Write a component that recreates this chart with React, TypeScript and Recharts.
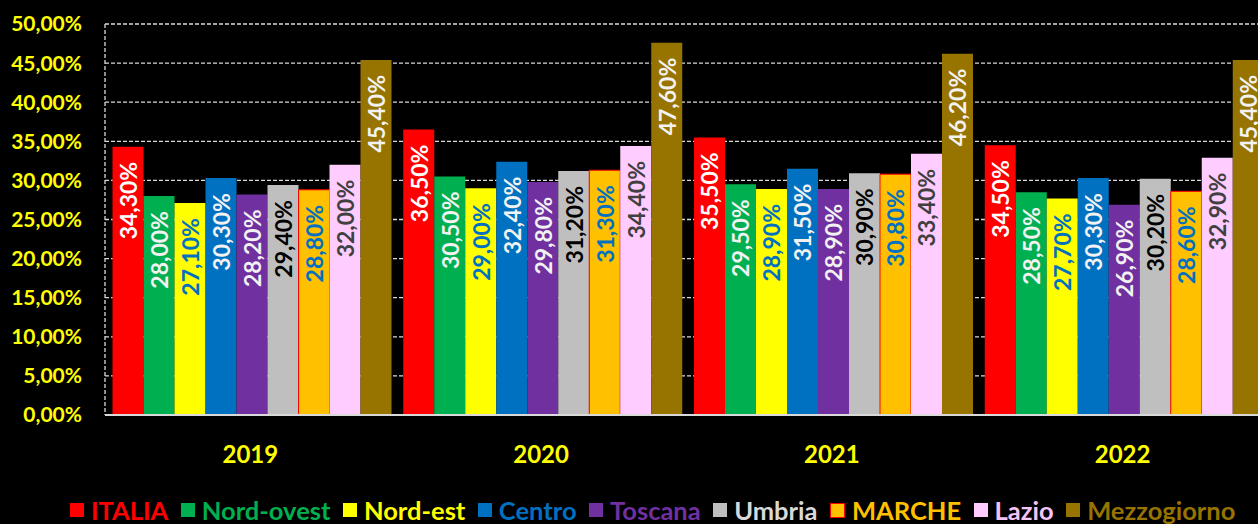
import React from 'react';
import { BarChart, Bar, XAxis, YAxis, CartesianGrid, Legend, LabelList } from 'recharts';

const years = ['2019', '2020', '2021', '2022'];
const italia = [34.3, 36.5, 35.5, 34.5];
const nordOvest = [28.0, 30.5, 29.5, 28.5];
const nordEst = [27.1, 29.0, 28.9, 27.7];
const centro = [30.3, 32.4, 31.5, 30.3];
const toscana = [28.2, 29.8, 28.9, 26.9];
const umbria = [29.4, 31.2, 30.9, 30.2];
const marche = [28.8, 31.3, 30.8, 28.6];
const lazio = [32.0, 34.4, 33.4, 32.9];
const mezzogiorno = [45.4, 47.6, 46.2, 45.4];
const yTicks = [0, 5, 10, 15, 20, 25, 30, 35, 40, 45, 50];

const FONT = "Lato, 'DejaVu Sans', sans-serif";

const series = [
  { key: 'ITALIA', values: italia, fill: '#FF0000', label: '#FFFFFF', legend: '#FF0000' },
  { key: 'Nord-ovest', values: nordOvest, fill: '#00B050', label: '#F2F2F2', legend: '#00B050' },
  { key: 'Nord-est', values: nordEst, fill: '#FFFF00', label: '#0070C0', legend: '#FFFF00' },
  { key: 'Centro', values: centro, fill: '#0070C0', label: '#F2F2F2', legend: '#0070C0' },
  { key: 'Toscana', values: toscana, fill: '#7030A0', label: '#F2F2F2', legend: '#7030A0' },
  { key: 'Umbria', values: umbria, fill: '#BFBFBF', label: '#000000', legend: '#D9D9D9' },
  { key: 'MARCHE', values: marche, fill: '#FFC000', label: '#0070C0', legend: '#FFC000', stroke: '#FF0000' },
  { key: 'Lazio', values: lazio, fill: '#FFCCFF', label: '#404040', legend: '#F4C4F4' },
  { key: 'Mezzogiorno', values: mezzogiorno, fill: '#977300', label: '#F2F2F2', legend: '#977300' },
];

const data = years.map((y, i) => {
  const row: any = { year: y };
  series.forEach((s) => {
    row[s.key] = s.values[i];
  });
  return row;
});

const fmt = (v: any) => Number(v).toFixed(2).replace('.', ',') + '%';

const makeLabel = (color: string) => (props: any) => {
  const { x, y, width, value } = props;
  const cx = Number(x) + Number(width) / 2;
  const ty = Number(y) + 15;
  return (
    <text
      x={cx}
      y={ty}
      transform={`rotate(-90 ${cx} ${ty})`}
      textAnchor="end"
      dominantBaseline="central"
      fill={color}
      fontSize={23}
      fontWeight={700}
      fontFamily={FONT}
    >
      {fmt(value)}
    </text>
  );
};

const LegendContent = () => (
  <div
    style={{
      display: 'flex',
      alignItems: 'center',
      height: 44,
      paddingLeft: 70,
      boxSizing: 'border-box',
      fontFamily: FONT,
      fontWeight: 700,
      fontSize: 25.5,
      whiteSpace: 'nowrap',
    }}
  >
    {series.map((s) => (
      <div key={s.key} style={{ display: 'flex', alignItems: 'center', marginRight: 12.5, marginTop: 16 }}>
        <span
          style={{
            display: 'inline-block',
            width: s.stroke ? 13 : 14,
            height: s.stroke ? 13 : 14,
            background: s.fill,
            border: s.stroke ? `1.5px solid ${s.stroke}` : 'none',
            marginRight: 7,
          }}
        />
        <span style={{ color: s.legend, lineHeight: '24px' }}>{s.key}</span>
      </div>
    ))}
  </div>
);

export default function App() {
  return (
    <div
      style={{
        position: 'fixed',
        left: 0,
        top: 0,
        width: 1258,
        height: 524,
        overflow: 'hidden',
        background: '#000',
      }}
    >
      <BarChart
        width={1279}
        height={524}
        data={data}
        margin={{ top: 24, right: 11, left: 0, bottom: 0 }}
        barCategoryGap={7.5}
        barGap={0}
      >
        <CartesianGrid vertical={false} stroke="#D9D9D9" strokeDasharray="4 2" strokeWidth={1.3} />
        <XAxis
          dataKey="year"
          height={65}
          tickSize={0}
          tickMargin={31}
          tickLine={false}
          axisLine={{ stroke: '#D9D9D9', strokeWidth: 2 }}
          tick={{ fill: '#FFFF00', fontSize: 24, fontWeight: 700, fontFamily: FONT }}
        />
        <YAxis
          width={105}
          domain={[0, 50]}
          ticks={yTicks}
          interval={0}
          tickSize={0}
          tickMargin={23}
          tickLine={false}
          axisLine={{ stroke: '#D9D9D9', strokeDasharray: '4 2', strokeWidth: 1.3 }}
          tickFormatter={fmt}
          tick={{ fill: '#FFFF00', fontSize: 21, fontWeight: 700, fontFamily: FONT }}
        />
        <Legend
          verticalAlign="bottom"
          height={44}
          wrapperStyle={{ left: 0, width: 1258, bottom: 0 }}
          content={() => <LegendContent />}
        />
        {series.map((s) => (
          <Bar
            key={s.key}
            dataKey={s.key}
            fill={s.fill}
            stroke={s.stroke || 'none'}
            strokeWidth={s.stroke ? 1 : 0}
            isAnimationActive={false}
          >
            <LabelList dataKey={s.key} content={makeLabel(s.label)} />
          </Bar>
        ))}
      </BarChart>
    </div>
  );
}
